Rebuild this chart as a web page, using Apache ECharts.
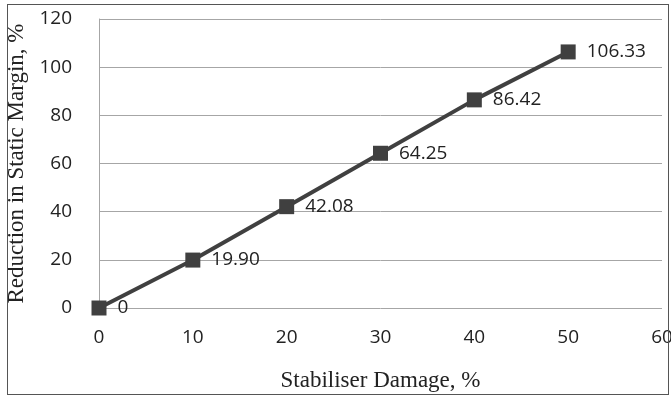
<!DOCTYPE html>
<html><head><meta charset="utf-8">
<script src="https://cdn.jsdelivr.net/npm/echarts@6/dist/echarts.min.js"></script>
<style>html,body{margin:0;padding:0;background:#fff}#c{width:671px;height:396px;position:relative}
#frame{position:absolute;left:7px;top:4px;width:662px;height:391px;border:1.5px solid #555;box-sizing:border-box;pointer-events:none}</style>
</head><body><div id="c"></div><div id="frame"></div>
<script>
const damage = [0, 10, 20, 30, 40, 50];
const reduction = [0, 19.90, 42.08, 64.25, 86.42, 106.33];
const labels = ['0', '19.90', '42.08', '64.25', '86.42', '106.33'];
const xTitle = 'Stabiliser Damage, %';
const yTitle = 'Reduction in Static Margin, %';

const chart = echarts.init(document.getElementById('c'), null, {renderer: 'canvas'});
const tickFont = {fontFamily: 'Open Sans', fontSize: 19, color: '#222'};
chart.setOption({
  animation: false,
  grid: {left: 99, right: 9, top: 19, bottom: 88, containLabel: false, outerBoundsMode: 'none'},
  xAxis: {
    type: 'value', min: 0, max: 60, interval: 10,
    name: xTitle, nameLocation: 'middle', nameGap: 61,
    nameTextStyle: {fontFamily: 'Liberation Serif', fontSize: 23, color: '#222'},
    axisLine: {show: false}, axisTick: {show: false},
    splitLine: {show: false},
    axisLabel: Object.assign({margin: 20}, tickFont)
  },
  yAxis: {
    type: 'value', min: 0, max: 120, interval: 20,
    name: yTitle, nameLocation: 'middle', nameGap: 67,
    nameTextStyle: {fontFamily: 'Liberation Serif', fontSize: 23, color: '#222'},
    axisLine: {show: true, lineStyle: {color: '#a6a6a6', width: 1}}, axisTick: {show: false},
    splitLine: {show: true, lineStyle: {color: '#a6a6a6', width: 1}},
    axisLabel: Object.assign({margin: 27}, tickFont)
  },
  series: [{
    type: 'line',
    data: damage.map((d, i) => [d, reduction[i]]),
    symbol: 'rect', symbolSize: 15,
    lineStyle: {color: '#404040', width: 4},
    itemStyle: {color: '#404040'},
    label: {
      show: true, position: 'right', distance: 11,
      formatter: p => labels[p.dataIndex],
      fontFamily: 'Open Sans', fontSize: 19, color: '#222'
    }
  }]
});
</script></body></html>
